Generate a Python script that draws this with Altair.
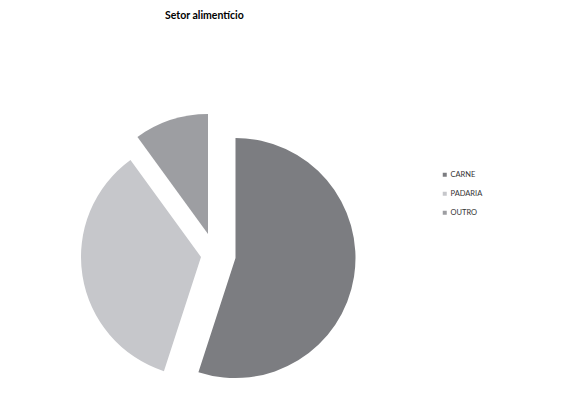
import altair as alt
import pandas as pd

categories = ["CARNE", "PADARIA", "OUTRO"]
values = [55, 35, 10]
colors = ["#7c7d81", "#c6c7cb", "#9d9ea2"]
explode_x = [20.5, -14, -7]
explode_y = [3, 2, -21]

total = sum(values)
cx, cy = 207, 222
radius = 120

df = pd.DataFrame({"setor": categories, "valor": values, "ordem": list(range(len(categories)))})

base = alt.Chart(df).transform_window(
    fim="sum(valor)", sort=[alt.SortField("ordem")], frame=[None, 0]
).transform_calculate(inicio="datum.fim - datum.valor")

layers = []
for cat, dx, dy in zip(categories, explode_x, explode_y):
    layers.append(
        base.transform_filter(alt.datum.setor == cat)
        .mark_arc(x=cx + dx, y=cy + dy, outerRadius=radius, strokeWidth=0)
        .encode(
            theta=alt.Theta("inicio:Q", scale=alt.Scale(domain=[0, total], range=[0, 6.283185307179586])),
            theta2="fim:Q",
            color=alt.Color(
                "setor:N",
                scale=alt.Scale(domain=categories, range=colors),
                legend=alt.Legend(
                    title=None,
                    orient="none",
                    legendX=433,
                    legendY=138,
                    symbolType="square",
                    symbolSize=16,
                    symbolStrokeWidth=0,
                    labelFont="Lato",
                    labelFontSize=7.5,
                    labelColor="#333333",
                    rowPadding=10,
                    labelOffset=2,
                    padding=0,
                ),
            ),
        )
    )

chart = alt.layer(*layers).properties(
    width=549,
    height=358,
    padding={"left": 0, "top": 25, "right": 0, "bottom": 0},
    autosize=alt.AutoSizeParams(type="none"),
    title=alt.TitleParams(
        "Setor alimentício",
        font="Lato",
        fontSize=10.5,
        fontWeight="bold",
        color="#000000",
        anchor="start",
        dx=157,
        offset=12,
    ),
).configure_view(stroke=None)

chart.save("out.html", embed_options={"renderer": "svg", "actions": False})
